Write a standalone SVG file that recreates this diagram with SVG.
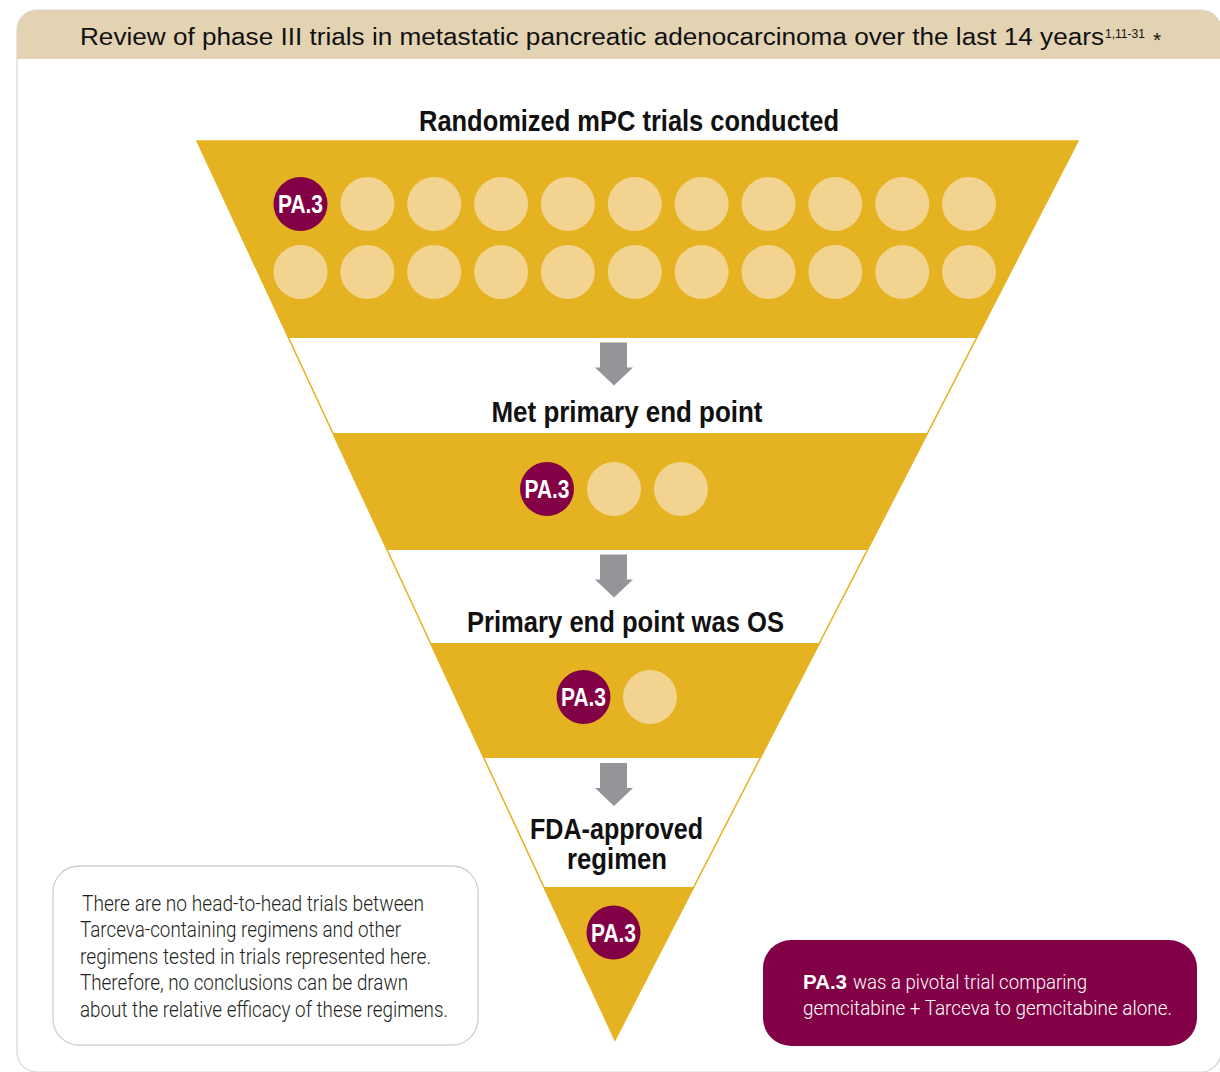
<svg xmlns="http://www.w3.org/2000/svg" width="1220" height="1072" viewBox="0 0 1220 1072">
  <style>
    .frame { fill: #ffffff; stroke: #d6d6d6; stroke-width: 1.2; }
    .band { fill: #e5b322; }
    .outline { fill: #ffffff; stroke: #e5b322; stroke-width: 1.5; stroke-linejoin: miter; }
    .dot { fill: #f2d38f; }
    .pa { fill: #820045; }
    .pa-label { font-family: "Liberation Sans", Arial, sans-serif; font-weight: bold; font-size: 25px; fill: #ffffff; text-anchor: middle; }
    .stage { font-family: "Liberation Sans", Arial, sans-serif; font-weight: bold; font-size: 30px; fill: #111111; }
    .head { font-family: "Liberation Sans", Arial, sans-serif; font-size: 23px; fill: #111111; }
    .note { font-family: Roboto, "Liberation Sans", Arial, sans-serif; font-weight: 300; font-size: 22px; fill: #231f20; }
    .callout { font-family: Roboto, "Liberation Sans", Arial, sans-serif; font-weight: 300; font-size: 21px; fill: #ffffff; }
    .callout-b { font-family: "Liberation Sans", Arial, sans-serif; font-weight: bold; font-size: 21px; fill: #ffffff; }
    .arrow { fill: #939598; }
  </style>
  <defs>
    <g id="arrow-shape">
      <path class="arrow" d="M600,0 H627 V25 H633 L614,43 L595,25 H600 Z"/>
    </g>
  </defs>

  <!-- outer panel with header strip -->
  <g id="panel">
    <rect class="frame" x="17" y="10" width="1204" height="1062" rx="20" ry="20"/>
    <path d="M17,59 V30 A20,20 0 0 1 37,10 H1201 A20,20 0 0 1 1221,30 V59 Z" fill="#e3d3b3"/>
    <text class="head" x="80" y="45"><tspan textLength="1024" lengthAdjust="spacingAndGlyphs">Review of phase III trials in metastatic pancreatic adenocarcinoma over the last 14 years</tspan><tspan x="1105" y="38" font-size="13" textLength="40" lengthAdjust="spacingAndGlyphs">1,11-31</tspan><tspan x="1153" y="47" font-size="21">*</tspan></text>
  </g>

  <!-- funnel body: triangle outline, then the coloured tiers -->
  <g id="funnel">
    <polygon class="outline" points="197,141 1078,141 615,1040"/>
    <polygon class="band" points="197,141 1078,141 976.5,338 288.6,338"/>
    <polygon class="band" points="332.8,433 927.6,433 867.4,550 387.2,550"/>
    <polygon class="band" points="430.4,643 819.5,643 760.2,758 483.9,758"/>
    <polygon class="band" points="543.9,887 693.8,887 615,1040"/>
  </g>

  <!-- tier 1: randomized trials -->
  <g id="tier-randomized">
    <text class="stage" x="419" y="131" textLength="420" lengthAdjust="spacingAndGlyphs">Randomized mPC trials conducted</text>
    <circle class="pa" cx="300.5" cy="204" r="27"/>
    <text class="pa-label" x="300.5" y="213" textLength="45" lengthAdjust="spacingAndGlyphs">PA.3</text>
    <circle class="dot" cx="367.4" cy="204" r="27"/>
    <circle class="dot" cx="434.2" cy="204" r="27"/>
    <circle class="dot" cx="501.1" cy="204" r="27"/>
    <circle class="dot" cx="567.9" cy="204" r="27"/>
    <circle class="dot" cx="634.8" cy="204" r="27"/>
    <circle class="dot" cx="701.6" cy="204" r="27"/>
    <circle class="dot" cx="768.5" cy="204" r="27"/>
    <circle class="dot" cx="835.3" cy="204" r="27"/>
    <circle class="dot" cx="902.2" cy="204" r="27"/>
    <circle class="dot" cx="969" cy="204" r="27"/>
    <circle class="dot" cx="300.5" cy="272" r="27"/>
    <circle class="dot" cx="367.4" cy="272" r="27"/>
    <circle class="dot" cx="434.2" cy="272" r="27"/>
    <circle class="dot" cx="501.1" cy="272" r="27"/>
    <circle class="dot" cx="567.9" cy="272" r="27"/>
    <circle class="dot" cx="634.8" cy="272" r="27"/>
    <circle class="dot" cx="701.6" cy="272" r="27"/>
    <circle class="dot" cx="768.5" cy="272" r="27"/>
    <circle class="dot" cx="835.3" cy="272" r="27"/>
    <circle class="dot" cx="902.2" cy="272" r="27"/>
    <circle class="dot" cx="969" cy="272" r="27"/>
  </g>

  <!-- tier 2: met primary end point -->
  <g id="tier-met-endpoint">
    <text class="stage" x="491.5" y="422" textLength="271" lengthAdjust="spacingAndGlyphs">Met primary end point</text>
    <circle class="pa" cx="547" cy="489" r="27"/>
    <text class="pa-label" x="547" y="498" textLength="45" lengthAdjust="spacingAndGlyphs">PA.3</text>
    <circle class="dot" cx="614" cy="489" r="27"/>
    <circle class="dot" cx="681" cy="489" r="27"/>
  </g>

  <!-- tier 3: endpoint was overall survival -->
  <g id="tier-os">
    <text class="stage" x="467" y="632" textLength="317" lengthAdjust="spacingAndGlyphs">Primary end point was OS</text>
    <circle class="pa" cx="583.5" cy="697" r="27"/>
    <text class="pa-label" x="583.5" y="706" textLength="45" lengthAdjust="spacingAndGlyphs">PA.3</text>
    <circle class="dot" cx="650" cy="697" r="27"/>
  </g>

  <!-- tier 4: approved regimen -->
  <g id="tier-approved">
    <text class="stage" x="530" y="838.5" textLength="173" lengthAdjust="spacingAndGlyphs">FDA-approved</text>
    <text class="stage" x="567" y="869" textLength="100" lengthAdjust="spacingAndGlyphs">regimen</text>
    <circle class="pa" cx="613.5" cy="932.5" r="27"/>
    <text class="pa-label" x="613.5" y="941.5" textLength="45" lengthAdjust="spacingAndGlyphs">PA.3</text>
  </g>

  <!-- arrows between tiers -->
  <g id="connectors">
    <use href="#arrow-shape" transform="translate(0,342.5)"/>
    <use href="#arrow-shape" transform="translate(0,554.5)"/>
    <use href="#arrow-shape" transform="translate(0,763)"/>
  </g>

  <!-- disclaimer box -->
  <g id="note">
    <rect x="53" y="866" width="425" height="179" rx="26" ry="26" fill="#ffffff" stroke="#cfcfcf" stroke-width="1.3"/>
    <text class="note" x="82" y="910.5" textLength="342" lengthAdjust="spacingAndGlyphs">There are no head-to-head trials between</text>
    <text class="note" x="80" y="937" textLength="321" lengthAdjust="spacingAndGlyphs">Tarceva-containing regimens and other</text>
    <text class="note" x="80" y="963.5" textLength="351" lengthAdjust="spacingAndGlyphs">regimens tested in trials represented here.</text>
    <text class="note" x="80" y="990" textLength="328" lengthAdjust="spacingAndGlyphs">Therefore, no conclusions can be drawn</text>
    <text class="note" x="80" y="1016.5" textLength="368" lengthAdjust="spacingAndGlyphs">about the relative efficacy of these regimens.</text>
  </g>

  <!-- PA.3 callout -->
  <g id="callout">
    <rect x="763" y="940" width="434" height="106" rx="28" ry="28" fill="#820045"/>
    <text class="callout-b" x="803" y="988.5" textLength="44" lengthAdjust="spacingAndGlyphs">PA.3</text>
    <text class="callout" x="853" y="988.5" textLength="234" lengthAdjust="spacingAndGlyphs">was a pivotal trial comparing</text>
    <text class="callout" x="803" y="1015" textLength="369" lengthAdjust="spacingAndGlyphs">gemcitabine + Tarceva to gemcitabine alone.</text>
  </g>
</svg>
